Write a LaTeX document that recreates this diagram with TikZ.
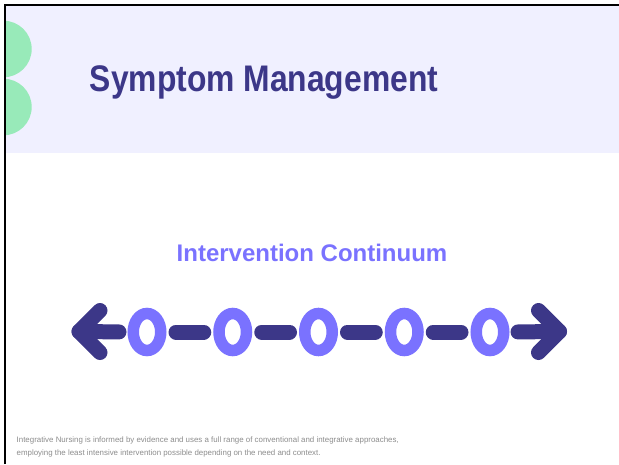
\documentclass[tikz,border=0pt]{standalone}
\usepackage{fontspec}
\setmainfont{Liberation Sans}
\usepackage{tikz}
\usetikzlibrary{shapes.geometric,positioning}
\definecolor{slideNavy}{RGB}{60,55,136}
\definecolor{slideViolet}{RGB}{122,114,255}
\definecolor{bandLilac}{RGB}{240,240,255}
\definecolor{dotGreen}{RGB}{152,234,185}
\definecolor{footGray}{RGB}{140,140,140}

\begin{document}
\begin{tikzpicture}[
    x=1pt, y=-1pt,
    ring/.style={ellipse, draw=slideViolet, line width=11.5pt,
      minimum width=27.5pt, minimum height=37pt, inner sep=0pt},
    link/.style={slideNavy, line width=15pt, line cap=round, line join=round},
    gap/.style={shorten <=9.5pt, shorten >=9.5pt}
  ]
    \useasboundingbox (0,0) rectangle (619,464);
    % header band with the two green half discs
    \begin{scope}
      \clip (6,6) rectangle (619,464);
      \fill[bandLilac] (6,6) rectangle (619,153);
      \fill[dotGreen] (3.4,49) circle (28.3);
      \fill[dotGreen] (3.4,107) circle (28.3);
    \end{scope}
    \draw[black, line width=2.5pt] (4.75,464) -- (4.75,4.75) -- (619,4.75);
    % titles
    \node[font=\bfseries\fontsize{37}{40}\selectfont, text=slideNavy,
      anchor=base] (title) at (264,91) {\scalebox{0.86}[1]{Symptom Management}};
    \node[font=\bfseries\fontsize{24}{28}\selectfont, text=slideViolet,
      anchor=base] (sub) at (312,261) {Intervention Continuum};
    % continuum: five rings joined by bars
    \foreach \i in {1,...,5}
      \node[ring] (r\i) at (61.25+85.75*\i,332) {};
    \foreach \i/\j in {1/2,2/3,3/4,4/5}
      \draw[link, gap] (r\i.east) -- (r\j.west);
    % arrow heads at both ends
    \coordinate (tipL) at (79,331.5);
    \coordinate (tipR) at (559.5,331.5);
    \draw[link, shorten <=8.5pt] (r1.west) -- (tipL);
    \draw[link] (100,310.5) -- (tipL) -- (100,352.5);
    \draw[link, shorten <=8.5pt] (r5.east) -- (tipR);
    \draw[link] (538.5,310.5) -- (tipR) -- (538.5,352.5);
    % footnote
    \node[font=\fontsize{7.9}{9}\selectfont, text=footGray, anchor=base west,
      inner sep=0pt] (foot1) at (16.5,442)
      {Integrative Nursing is informed by evidence and uses a full range of conventional and integrative approaches,};
    \node[font=\fontsize{7.9}{9}\selectfont, text=footGray, anchor=base west,
      inner sep=0pt] (foot2) at (16.5,455)
      {employing the least intensive intervention possible depending on the need and context.};
\end{tikzpicture}
\end{document}
